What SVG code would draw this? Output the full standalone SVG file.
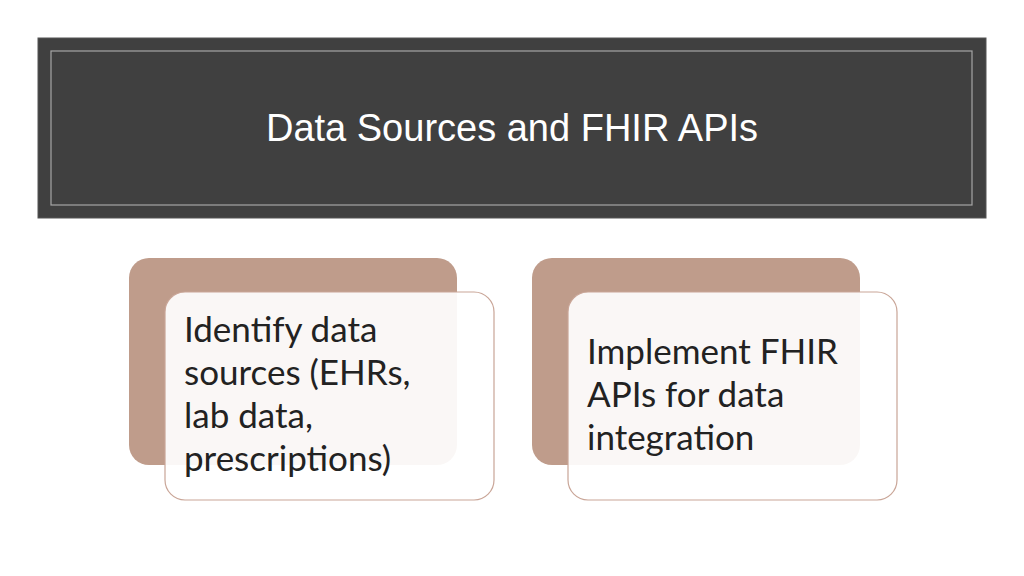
<svg xmlns="http://www.w3.org/2000/svg" width="1024" height="576" viewBox="0 0 1024 576">
<style>
.back{fill:#bf9c8b}
.front{fill:#ffffff;fill-opacity:0.92;stroke:#c9a597;stroke-width:1.2}
.t{font-family:Lato,"Open Sans",sans-serif;font-size:35px;fill:#222}
</style>
<rect width="1024" height="576" fill="#ffffff"/>
<g id="header">
<rect x="38" y="38" width="948" height="180" fill="#404040" stroke="#555" stroke-width="1"/>
<rect x="51" y="51" width="921" height="154" fill="none" stroke="#a6a6a6" stroke-width="1.2"/>
<text x="512" y="141" text-anchor="middle" font-family="'Liberation Sans',Arial,sans-serif" font-size="38" fill="#ffffff">Data Sources and FHIR APIs</text>
</g>
<g id="card1">
<rect class="back" x="129" y="258" width="328" height="207" rx="20"/>
<rect class="front" x="165" y="292" width="329" height="208" rx="20"/>
<text class="t" x="184" y="342">Identify data</text>
<text class="t" x="184" y="385">sources (EHRs,</text>
<text class="t" x="184" y="428">lab data,</text>
<text class="t" x="184" y="471">prescriptions)</text>
</g>
<g id="card2">
<rect class="back" x="532" y="258" width="328" height="207" rx="20"/>
<rect class="front" x="568" y="292" width="329" height="208" rx="20"/>
<text class="t" x="587" y="364">Implement FHIR</text>
<text class="t" x="587" y="407">APIs for data</text>
<text class="t" x="587" y="450">integration</text>
</g>
<g id="connectors"/>
</svg>
